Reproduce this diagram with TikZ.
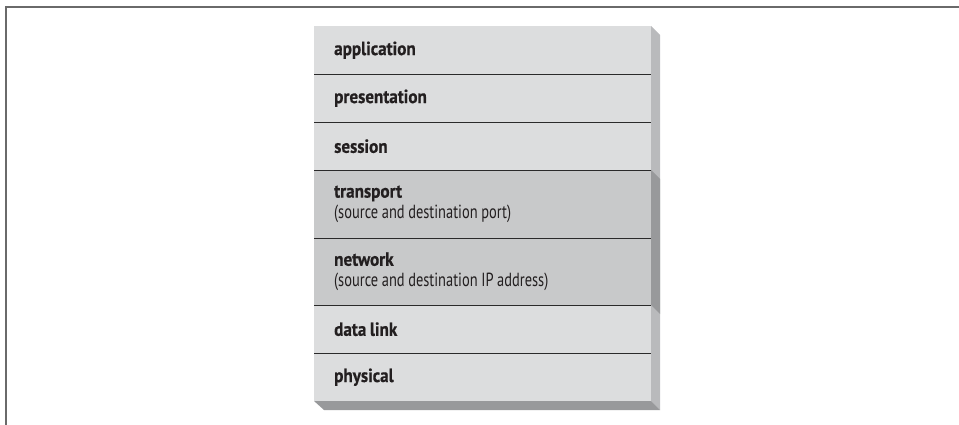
\documentclass[tikz,border=0pt]{standalone}
\usepackage{fontspec}
\setmainfont{PT Sans}
\newfontfamily\layerfont[FakeStretch=0.76, BoldFeatures={FakeStretch=0.9, FakeBold=0.6}]{PT Sans}
\newcommand\layerspacing{\spaceskip=3.6pt plus 1pt minus 0.5pt\relax}
\definecolor{lightrow}{HTML}{DCDDDE}
\definecolor{darkrow}{HTML}{C8C9CA}
\definecolor{lightside}{HTML}{B9BABC}
\definecolor{darkside}{HTML}{98999B}
\definecolor{sepline}{HTML}{2A2A2A}
\definecolor{framec}{HTML}{6A6A6A}
\definecolor{textc}{HTML}{231F20}
\tikzset{
  layer/.style={draw=none, rectangle, minimum width=337pt, text width=297pt,
    inner xsep=20pt, inner ysep=0pt, align=left, anchor=north west, text=textc,
    font=\layerfont\fontsize{19pt}{21pt}\selectfont,
    execute at begin node=\layerspacing},
  sep/.style={draw=sepline, line width=1.1pt},
}
\begin{document}
\begin{tikzpicture}[x=1pt,y=-1pt]
\useasboundingbox (0,0) rectangle (959,425);
% outer frame
\draw[framec, line width=2pt] (6,425) -- (6,7) -- (959,7);
% side and bottom faces
\fill[lightside] (651,26) -- (660,35) -- (660,410) -- (651,401) -- cycle;
\fill[darkside] (651,170) -- (660,179) -- (660,314) -- (651,305) -- cycle;
\fill[darkside] (314,401) -- (651,401) -- (660,410) -- (324,410) -- cycle;
% layers
\node[layer, fill=lightrow, minimum height=48pt] (app) at (314,26) {\textbf{application}};
\node[layer, fill=lightrow, minimum height=48pt] (pres) at (314,74) {\textbf{presentation}};
\node[layer, fill=lightrow, minimum height=48pt] (sess) at (314,122) {\textbf{session}};
\node[layer, fill=darkrow, minimum height=68pt] (trans) at (314,170) {\textbf{transport}\\(source and destination port)};
\node[layer, fill=darkrow, minimum height=67pt] (net) at (314,238) {\textbf{network}\\(source and destination IP address)};
\node[layer, fill=lightrow, minimum height=48pt] (dl) at (314,305) {\textbf{data link}};
\node[layer, fill=lightrow, minimum height=48pt] (phys) at (314,353) {\textbf{physical}};
% separators
\draw[sep] (app.south west) -- (app.south east);
\draw[sep] (pres.south west) -- (pres.south east);
\draw[sep] (sess.south west) -- (sess.south east);
\draw[sep] (trans.south west) -- (trans.south east);
\draw[sep] (net.south west) -- (net.south east);
\draw[sep] (dl.south west) -- (dl.south east);
\end{tikzpicture}
\end{document}
